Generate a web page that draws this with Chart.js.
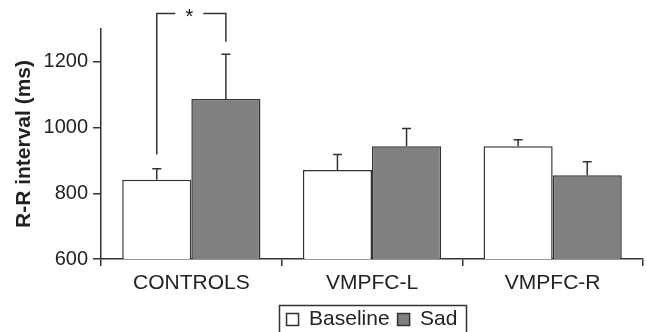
<!DOCTYPE html>
<html>
<head>
<meta charset="utf-8">
<script src="https://cdn.jsdelivr.net/npm/chart.js@4"></script>
<style>
  html, body { margin: 0; padding: 0; background: #fff; }
  canvas { display: block; }
</style>
</head>
<body>
<canvas id="chart" width="647" height="332"></canvas>
<script>
// data
const groups = ["CONTROLS", "VMPFC-L", "VMPFC-R"];
const baseline = [841, 871, 943];
const baselineErr = [34, 47, 20];
const sad = [1087, 943, 855];
const sadErr = [136, 54, 41];
const yTicks = [600, 800, 1000, 1200];

// significance bracket over CONTROLS (y values)
const bracketLeft = 918;
const bracketRight = 1261;
const bracketTop = 1347;

const FONT = "'Liberation Sans', Arial, sans-serif";
const INK = "#333";

// error bars (upper only) + the * bracket
const errorBars = {
  id: "errorBars",
  afterDatasetsDraw(chart) {
    const ctx = chart.ctx;
    const y = chart.scales.y;
    ctx.save();
    ctx.strokeStyle = INK;
    ctx.lineWidth = 1.5;
    chart.data.datasets.forEach((ds, i) => {
      chart.getDatasetMeta(i).data.forEach((bar, j) => {
        const top = y.getPixelForValue(ds.data[j] + ds.errors[j]);
        ctx.beginPath();
        ctx.moveTo(bar.x, bar.y);
        ctx.lineTo(bar.x, top);
        ctx.moveTo(bar.x - 4.5, top);
        ctx.lineTo(bar.x + 4.5, top);
        ctx.stroke();
      });
    });

    const xl = chart.getDatasetMeta(0).data[0].x;
    const xr = chart.getDatasetMeta(1).data[0].x;
    const mid = (xl + xr) / 2;
    const yt = y.getPixelForValue(bracketTop);
    ctx.beginPath();
    ctx.moveTo(xl, y.getPixelForValue(bracketLeft));
    ctx.lineTo(xl, yt);
    ctx.lineTo(mid - 16, yt);
    ctx.moveTo(mid + 12, yt);
    ctx.lineTo(xr, yt);
    ctx.lineTo(xr, y.getPixelForValue(bracketRight));
    ctx.stroke();

    ctx.fillStyle = "#111";
    ctx.font = "20px " + FONT;
    ctx.textAlign = "center";
    ctx.textBaseline = "middle";
    ctx.fillText("*", mid - 2, yt + 4);
    ctx.restore();
  },
  afterDraw(chart) {
    // frame round the legend
    const boxes = chart.legend.legendHitBoxes;
    if (!boxes || !boxes.length) return;
    const left = Math.min(...boxes.map(b => b.left)) - 8;
    const right = Math.max(...boxes.map(b => b.left + b.width)) + 8;
    const ctx = chart.ctx;
    ctx.save();
    ctx.strokeStyle = INK;
    ctx.lineWidth = 1.5;
    ctx.strokeRect(Math.round(left) + 0.5, 305.5, Math.round(right - left), 40);
    ctx.restore();
  }
};

new Chart(document.getElementById("chart"), {
  type: "bar",
  data: {
    labels: groups,
    datasets: [
      {
        label: "Baseline",
        data: baseline,
        errors: baselineErr,
        backgroundColor: "#ffffff",
        borderColor: INK,
        borderWidth: 1.5
      },
      {
        label: "Sad",
        data: sad,
        errors: sadErr,
        backgroundColor: "#808080",
        borderColor: INK,
        borderWidth: 1.5
      }
    ]
  },
  options: {
    responsive: false,
    animation: false,
    devicePixelRatio: 1,
    layout: { padding: { top: 29, right: 4, left: 0, bottom: -8 } },
    datasets: { bar: { categoryPercentage: 0.765, barPercentage: 1 } },
    plugins: {
      tooltip: { enabled: false },
      legend: {
        position: "bottom",
        fullSize: false,
        onClick: null,
        labels: {
          font: { family: FONT, size: 21 },
          color: "#222",
          boxWidth: 12,
          boxHeight: 12,
          padding: 8
        }
      }
    },
    scales: {
      x: {
        afterFit: s => { s.height = 42; },
        grid: {
          offset: true,
          drawOnChartArea: false,
          tickLength: 7,
          color: INK,
          lineWidth: 1.5
        },
        border: { color: INK, width: 1.5 },
        ticks: { font: { family: FONT, size: 21 }, color: "#222", padding: 5 }
      },
      y: {
        min: 600,
        max: 1300,
        afterFit: s => { s.width = 101; },
        afterBuildTicks: s => { s.ticks = yTicks.map(v => ({ value: v })); },
        grid: {
          drawOnChartArea: false,
          tickLength: 8,
          color: INK,
          lineWidth: 1.5
        },
        border: { color: INK, width: 1.5 },
        ticks: {
          font: { family: FONT, size: 20 },
          color: "#222",
          padding: 5,
          callback: v => String(v)
        },
        title: {
          display: true,
          text: "R-R interval (ms)",
          font: { family: FONT, size: 21, weight: "bold" },
          color: "#222",
          padding: { top: 12, bottom: 0 }
        }
      }
    }
  },
  plugins: [errorBars]
});
</script>
</body>
</html>
